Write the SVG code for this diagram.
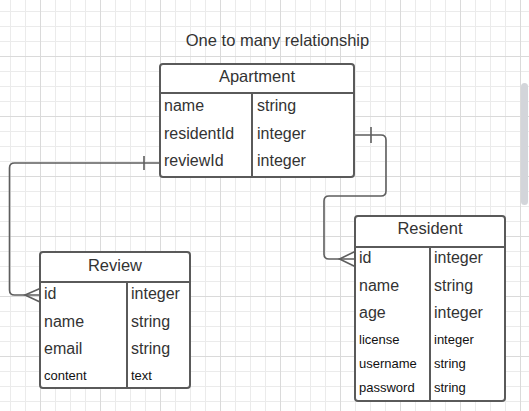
<svg xmlns="http://www.w3.org/2000/svg" width="529" height="411" viewBox="0 0 529 411">
<style>
  .tbl{fill:#fff;stroke:#5a5a5a;stroke-width:2}
  .ln{stroke:#5a5a5a;stroke-width:2;fill:none}
  .t{font-family:"Liberation Sans",Arial,sans-serif;font-size:16px;fill:#333}
  .s{font-family:"Liberation Sans",Arial,sans-serif;font-size:13px;fill:#111}
  .h{font-family:"Liberation Sans",Arial,sans-serif;font-size:16.5px;fill:#333;text-anchor:middle}
  .c{stroke:#5e5e5e;stroke-width:1.6;fill:none}
</style>
<defs>
  <pattern id="minor" patternUnits="userSpaceOnUse" x="10" y="11" width="15" height="15">
    <path d="M0.5 0V15M0 0.5H15" stroke="#ebebeb" stroke-width="1" fill="none"/>
  </pattern>
  <pattern id="major" patternUnits="userSpaceOnUse" x="40" y="56" width="60" height="60">
    <path d="M0.5 0V60M0 0.5H60" stroke="#dadada" stroke-width="1" fill="none"/>
  </pattern>
</defs>
<rect width="529" height="411" fill="#fff"/>
<rect width="529" height="411" fill="url(#minor)"/>
<rect width="529" height="411" fill="url(#major)"/>
<rect x="521" y="83" width="7" height="122" rx="3.5" fill="#d3d5da"/>

<text class="h" x="277.5" y="46">One to many relationship</text>

<g id="connectors">
  <path class="c" d="M159 163H14.5Q9.5 163 9.5 168V290Q9.5 295 14.5 295H40"/>
  <path class="c" d="M144 156V170"/>
  <path class="c" d="M40 288.5L25 295L40 302"/>
  <path class="c" d="M354 135H381Q386 135 386 140V191Q386 196 381 196H329Q324 196 324 201V254Q324 259 329 259H355"/>
  <path class="c" d="M371 127V143"/>
  <path class="c" d="M355 251.5L339.5 259L355 266.5"/>
</g>

<g id="apartment">
  <rect class="tbl" x="160" y="64" width="194" height="113" rx="3"/>
  <path class="ln" d="M160 93H354M252 93V177"/>
  <text class="h" x="257" y="82">Apartment</text>
  <text class="t" x="164" y="111">name</text>
  <text class="t" x="164" y="139">residentId</text>
  <text class="t" x="164" y="166">reviewId</text>
  <text class="t" x="257" y="111">string</text>
  <text class="t" x="257" y="139">integer</text>
  <text class="t" x="257" y="166">integer</text>
</g>

<g id="review">
  <rect class="tbl" x="40" y="252" width="150" height="136" rx="3"/>
  <path class="ln" d="M40 282H190M127 282V388"/>
  <text class="h" x="115" y="271">Review</text>
  <text class="t" x="44" y="299">id</text>
  <text class="t" x="44" y="327">name</text>
  <text class="t" x="44" y="354">email</text>
  <text class="s" x="44" y="380">content</text>
  <text class="t" x="131" y="299">integer</text>
  <text class="t" x="131" y="327">string</text>
  <text class="t" x="131" y="354">string</text>
  <text class="s" x="131" y="380">text</text>
</g>

<g id="resident">
  <rect class="tbl" x="355" y="216" width="150" height="185" rx="3"/>
  <path class="ln" d="M355 247H505M430 247V401"/>
  <text class="h" x="430" y="234">Resident</text>
  <text class="t" x="359" y="263">id</text>
  <text class="t" x="359" y="291">name</text>
  <text class="t" x="359" y="318">age</text>
  <text class="s" x="359" y="344">license</text>
  <text class="s" x="359" y="368">username</text>
  <text class="s" x="359" y="392">password</text>
  <text class="t" x="434" y="263">integer</text>
  <text class="t" x="434" y="291">string</text>
  <text class="t" x="434" y="318">integer</text>
  <text class="s" x="434" y="344">integer</text>
  <text class="s" x="434" y="368">string</text>
  <text class="s" x="434" y="392">string</text>
</g>
</svg>
